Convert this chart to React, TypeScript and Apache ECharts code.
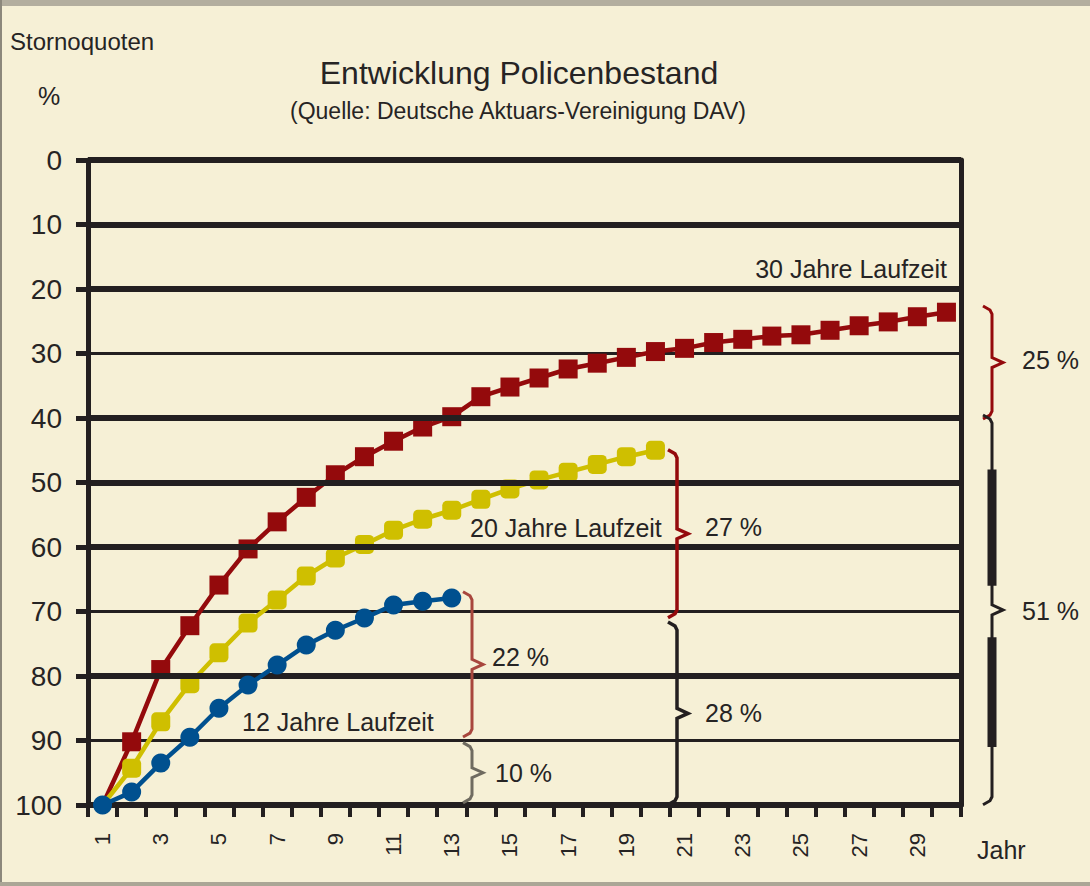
import React, { useEffect, useRef } from "react";
import * as echarts from "echarts";

// ---- data ----
const years = ["1","2","3","4","5","6","7","8","9","10","11","12","13","14","15","16","17","18","19","20","21","22","23","24","25","26","27","28","29","30"];
const red30 = [100, 90.2, 79.0, 72.2, 65.9, 60.3, 56.1, 52.3, 48.8, 46.0, 43.6, 41.4, 39.8, 36.7, 35.2, 33.8, 32.4, 31.5, 30.6, 29.7, 29.2, 28.3, 27.8, 27.3, 27.1, 26.4, 25.7, 25.1, 24.3, 23.6];
const yellow20 = [100, 94.3, 87.1, 81.2, 76.4, 71.8, 68.2, 64.5, 61.7, 59.6, 57.4, 55.7, 54.3, 52.6, 51.0, 49.6, 48.4, 47.2, 46.0, 45.0];
const blue12 = [100, 98.0, 93.5, 89.5, 85.0, 81.4, 78.3, 75.2, 72.9, 71.0, 69.0, 68.4, 67.9];
const seriesNames = ["30 Jahre Laufzeit", "20 Jahre Laufzeit", "12 Jahre Laufzeit"];
const seriesLabelValues = [16.9, 57.0, 87.1];
const thickGridValues = [0, 10, 20, 40, 50, 60, 80, 100];
const braceLabels = ["25 %", "51 %", "27 %", "28 %", "22 %", "10 %"];
const braceFrom = [23.1, 40.0, 45.4, 72.1, 67.4, 90.8];
const braceTo = [39.7, 99.5, 70.5, 99.5, 89.0, 99.2];
const title = "Entwicklung Policenbestand";
const subtitle = "(Quelle: Deutsche Aktuars-Vereinigung DAV)";
const yAxisTitle = "Stornoquoten";
const yAxisUnit = "%";
const xAxisTitle = "Jahr";

const FONT = '"Liberation Sans", Arial, sans-serif';
const INK = "#231f20";
const TEXT = "#262424";
const RED = "#940a0c";
const YELLOW = "#cfbf00";
const BLUE = "#00508f";
const BG = "#f6f0d6";

// hide the start marker of the series lying underneath the blue one
const hideFirst = (arr: number[]) => arr.map((v, i) => (i === 0 ? { value: v, symbol: "none" } : v));

export default function App() {
  const ref = useRef<HTMLDivElement>(null);

  useEffect(() => {
    if (!ref.current) return;
    const chart = echarts.init(ref.current, undefined, { renderer: "svg" });

    const option: any = {
      animation: false,
      backgroundColor: BG,
      grid: { left: 88, right: 129, top: 160, bottom: 81, containLabel: false },
      xAxis: {
        type: "category",
        position: "bottom",
        data: years,
        boundaryGap: true,
        axisLine: { show: true, onZero: false, lineStyle: { color: INK, width: 5 } },
        axisTick: { show: true, interval: 0, length: 12, lineStyle: { color: INK, width: 4 } },
        axisLabel: { interval: 1, rotate: 90, fontSize: 22, fontFamily: FONT, color: TEXT, margin: 28 },
        splitLine: { show: false },
      },
      yAxis: [
        {
          type: "value",
          inverse: true,
          min: 0,
          max: 100,
          interval: 10,
          axisLine: { show: true, lineStyle: { color: INK, width: 5 } },
          axisTick: { show: true, length: 12, lineStyle: { color: INK, width: 5 } },
          axisLabel: { fontSize: 28, fontFamily: FONT, color: TEXT, margin: 26 },
          splitLine: { show: true, lineStyle: { color: INK, width: 3 } },
        },
        {
          type: "value",
          position: "right",
          inverse: true,
          min: 0,
          max: 100,
          interval: 10,
          axisLine: { show: true, lineStyle: { color: INK, width: 5 } },
          axisTick: { show: false },
          axisLabel: { show: false },
          splitLine: { show: false },
        },
      ],
      series: [
        {
          type: "line",
          data: [],
          z: 1,
          silent: true,
          markLine: {
            silent: true,
            symbol: ["none", "none"],
            label: { show: false },
            emphasis: { disabled: true },
            lineStyle: { color: INK, width: 6, type: "solid" },
            data: thickGridValues.map((v) => ({ yAxis: v })),
          },
        },
        {
          name: seriesNames[0],
          type: "line",
          data: hideFirst(red30),
          z: 3,
          symbol: "rect",
          symbolSize: 19,
          lineStyle: { color: RED, width: 4.5 },
          itemStyle: { color: RED },
        },
        {
          name: seriesNames[1],
          type: "line",
          data: hideFirst(yellow20),
          z: 4,
          symbol: "roundRect",
          symbolSize: 19,
          lineStyle: { color: YELLOW, width: 4.5 },
          itemStyle: { color: YELLOW },
        },
        {
          name: seriesNames[2],
          type: "line",
          data: blue12,
          z: 5,
          symbol: "circle",
          symbolSize: 19,
          lineStyle: { color: BLUE, width: 4.5 },
          itemStyle: { color: BLUE },
        },
      ],
    };
    chart.setOption(option);

    const yPx = (v: number) => chart.convertToPixel({ yAxisIndex: 0 }, v) as number;

    const braceStyle = [
      { x: 992, color: RED, w: 3, lx: 1022, dy: -3, thick: [] as number[][] },
      { x: 992, color: INK, w: 3, lx: 1022, dy: 1, thick: [[48, 66], [74, 91]] },
      { x: 677, color: RED, w: 3.5, lx: 705, dy: -7, thick: [] },
      { x: 677, color: INK, w: 3.5, lx: 705, dy: 0, thick: [] },
      { x: 472, color: "#a8463d", w: 3, lx: 492, dy: -7, thick: [] },
      { x: 472, color: "#6f6b60", w: 3, lx: 495, dy: 0, thick: [] },
    ];

    const g: any[] = [];
    // frame
    g.push({ type: "rect", shape: { x: 0, y: 0, width: 1090, height: 6 }, style: { fill: "#b3ae9f" }, silent: true });
    g.push({ type: "rect", shape: { x: 0, y: 0, width: 2, height: 886 }, style: { fill: "#8c887c" }, silent: true });
    g.push({ type: "rect", shape: { x: 0, y: 882, width: 1090, height: 4 }, style: { fill: "#aba696" }, silent: true });

    // titles
    g.push({ type: "text", x: 519, y: 73, style: { text: title, fontSize: 32, fontFamily: FONT, fill: TEXT, align: "center", verticalAlign: "middle" } });
    g.push({ type: "text", x: 518, y: 111, style: { text: subtitle, fontSize: 23, fontFamily: FONT, fill: TEXT, align: "center", verticalAlign: "middle" } });
    g.push({ type: "text", x: 10, y: 41, style: { text: yAxisTitle, fontSize: 24, fontFamily: FONT, fill: TEXT, align: "left", verticalAlign: "middle" } });
    g.push({ type: "text", x: 49, y: 96, style: { text: yAxisUnit, fontSize: 25, fontFamily: FONT, fill: TEXT, align: "center", verticalAlign: "middle" } });
    g.push({ type: "text", x: 977, y: 850, style: { text: xAxisTitle, fontSize: 25, fontFamily: FONT, fill: TEXT, align: "left", verticalAlign: "middle" } });

    // series annotations
    const annX = [947, 470, 242];
    const annAlign = ["right", "left", "left"];
    seriesNames.forEach((name, i) => {
      g.push({ type: "text", x: annX[i], y: yPx(seriesLabelValues[i]), z: 10, style: { text: name, fontSize: 25, fontFamily: FONT, fill: TEXT, align: annAlign[i], verticalAlign: "middle" } });
    });

    // braces
    braceLabels.forEach((label, i) => {
      const s = braceStyle[i];
      const top = yPx(braceFrom[i]);
      const bot = yPx(braceTo[i]);
      const mid = (top + bot) / 2;
      const x = s.x;
      g.push({
        type: "polyline",
        z: 10,
        shape: {
          points: [
            [x - 9, top - 3], [x - 2, top + 1], [x, top + 5], [x, mid - 5], [x + 11, mid], [x, mid + 5], [x, bot - 5], [x - 2, bot - 1], [x - 9, bot + 3],
          ],
        },
        style: { stroke: s.color, lineWidth: s.w, fill: "none", lineJoin: "miter" },
        silent: true,
      });
      s.thick.forEach((r) => {
        const a = yPx(r[0]);
        const b = yPx(r[1]);
        g.push({ type: "rect", z: 10, shape: { x: x - 4.5, y: a, width: 9, height: b - a }, style: { fill: s.color }, silent: true });
      });
      g.push({ type: "text", x: s.lx, y: mid + s.dy, z: 10, style: { text: label, fontSize: 25, fontFamily: FONT, fill: TEXT, align: "left", verticalAlign: "middle" } });
    });

    chart.setOption({ graphic: g });

    return () => {
      chart.dispose();
    };
  }, []);

  return <div ref={ref} style={{ position: "fixed", left: 0, top: 0, width: 1090, height: 886 }} />;
}
